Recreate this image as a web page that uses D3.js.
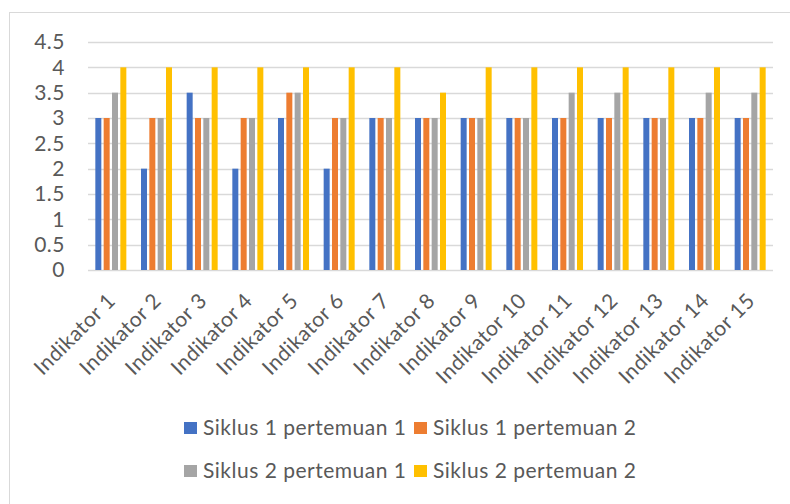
<!DOCTYPE html>
<html>
<head>
<meta charset="utf-8">
<script src="https://cdn.jsdelivr.net/npm/d3@7"></script>
<style>
  body { margin: 0; background: #fff; }
  svg { display: block; }
</style>
</head>
<body>
<div class="canva"></div>
<script>
// values
const categories = ["Indikator 1", "Indikator 2", "Indikator 3", "Indikator 4", "Indikator 5",
  "Indikator 6", "Indikator 7", "Indikator 8", "Indikator 9", "Indikator 10",
  "Indikator 11", "Indikator 12", "Indikator 13", "Indikator 14", "Indikator 15"];
const seriesNames = ["Siklus 1 pertemuan 1", "Siklus 1 pertemuan 2",
  "Siklus 2 pertemuan 1", "Siklus 2 pertemuan 2"];
const siklus1p1 = [3, 2, 3.5, 2, 3, 2, 3, 3, 3, 3, 3, 3, 3, 3, 3];
const siklus1p2 = [3, 3, 3, 3, 3.5, 3, 3, 3, 3, 3, 3, 3, 3, 3, 3];
const siklus2p1 = [3.5, 3, 3, 3, 3.5, 3, 3, 3, 3, 3, 3.5, 3.5, 3, 3.5, 3.5];
const siklus2p2 = [4, 4, 4, 4, 4, 4, 4, 3.5, 4, 4, 4, 4, 4, 4, 4];
const yTicks = [0, 0.5, 1, 1.5, 2, 2.5, 3, 3.5, 4, 4.5];

const colors = ["#4472c4", "#ed7d31", "#a5a5a5", "#ffc000"];
const allSeries = [siklus1p1, siklus1p2, siklus2p1, siklus2p2];

const W = 790, H = 504;
const font = "Lato, 'Open Sans', sans-serif";
const fontSize = 21;
const spacing = 0.5;
const textColor = "#595959";
const gridColor = "#d9d9d9";

const svg = d3.select(".canva").append("svg")
  .attr("width", W)
  .attr("height", H);

// chart border (runs off the right and bottom edge in the reference)
svg.append("rect")
  .attr("x", 9.5).attr("y", 12.5)
  .attr("width", 800).attr("height", 520)
  .attr("fill", "#fff")
  .attr("stroke", gridColor);

const plotLeft = 88, plotRight = 773, plotTop = 42, plotBottom = 270;

const y = d3.scaleLinear().domain([0, 4.5]).range([plotBottom, plotTop]);

const x0 = d3.scaleBand()
  .domain(categories)
  .range([plotLeft, plotRight])
  .paddingInner(0.27)
  .paddingOuter(0.135);

const x1 = d3.scaleBand()
  .domain(d3.range(seriesNames.length))
  .range([0, x0.bandwidth()])
  .paddingInner(0.28)
  .paddingOuter(0.14);

// gridlines
svg.append("g")
  .selectAll("line")
  .data(yTicks)
  .enter().append("line")
  .attr("x1", plotLeft).attr("x2", plotRight)
  .attr("y1", d => Math.round(y(d)) + 0.5)
  .attr("y2", d => Math.round(y(d)) + 0.5)
  .attr("stroke", gridColor)
  .attr("stroke-width", 1.3);

// y axis labels
const yAxis = svg.append("g")
  .attr("transform", `translate(${plotLeft - 23},0)`)
  .call(d3.axisLeft(y).tickValues(yTicks).tickSize(0).tickPadding(0).tickFormat(d3.format("")));
yAxis.select(".domain").remove();
yAxis.selectAll("text")
  .attr("font-family", font)
  .attr("font-size", fontSize)
  .attr("letter-spacing", spacing)
  .attr("fill", textColor);

// bars
const rows = categories.map((c, i) => ({ cat: c, vals: allSeries.map(s => s[i]) }));

const groups = svg.append("g")
  .selectAll("g")
  .data(rows)
  .enter().append("g")
  .attr("transform", d => `translate(${x0(d.cat)},0)`);

groups.selectAll("rect")
  .data(d => d.vals.map((v, k) => ({ k: k, v: v })))
  .enter().append("rect")
  .attr("x", d => x1(d.k))
  .attr("width", x1.bandwidth())
  .attr("y", d => y(d.v))
  .attr("height", d => y(0) - y(d.v))
  .attr("fill", d => colors[d.k]);

// x axis labels, rotated
svg.append("g")
  .selectAll("text")
  .data(categories)
  .enter().append("text")
  .attr("transform", d => `translate(${x0(d) + x0.bandwidth() / 2 + 6},302) rotate(-45)`)
  .attr("text-anchor", "end")
  .attr("font-family", font)
  .attr("font-size", fontSize)
  .attr("letter-spacing", spacing)
  .attr("fill", textColor)
  .text(d => d);

// legend: two rows of two
const legendPos = [
  { x: 184, y: 435 }, { x: 414, y: 435 },
  { x: 184, y: 478 }, { x: 414, y: 478 }
];
const legend = svg.append("g")
  .selectAll("g")
  .data(seriesNames)
  .enter().append("g")
  .attr("transform", (d, i) => `translate(${legendPos[i].x},${legendPos[i].y})`);

legend.append("rect")
  .attr("x", 0).attr("y", -13)
  .attr("width", 13).attr("height", 12)
  .attr("fill", (d, i) => colors[i]);

legend.append("text")
  .attr("x", 19)
  .attr("font-family", font)
  .attr("font-size", fontSize)
  .attr("letter-spacing", spacing)
  .attr("fill", textColor)
  .text(d => d);
</script>
</body>
</html>
